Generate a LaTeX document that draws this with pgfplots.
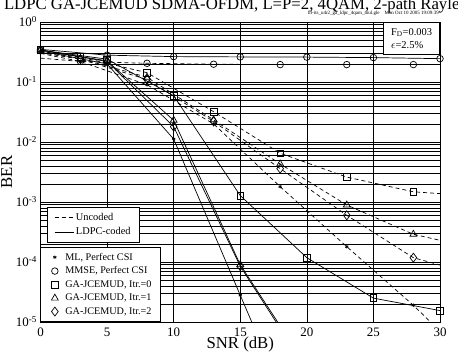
\documentclass[border=0pt]{standalone}
\usepackage{pgfplots}
\pgfplotsset{compat=1.18}
\usepackage{fontspec}
\setmainfont{Liberation Serif}
\pgfplotsset{
  mkleg/.style={only marks, line width=0.7bp,
    legend image code/.code={%
      \path[draw=none] (0bp,0bp) -- (14bp,0bp);
      \draw[##1] plot coordinates {(7bp,0bp)};}},
  lnleg/.style={line width=0.7bp,
    legend image code/.code={%
      \draw[##1] (0bp,0bp) -- (19bp,0bp);}},
}
\begin{document}
\begin{tikzpicture}[x=1bp,y=1bp]
\begin{axis}[
  at={(40.5bp,34bp)}, anchor=south west,
  scale only axis, width=399.5bp, height=300bp,
  ymode=log, xmin=0, xmax=30, ymin=1e-5, ymax=1,
  axis line style={black, line width=0.9bp},
  xtick={0,5,10,15,20,25,30},
  ytick={1e-5,1e-4,1e-3,1e-2,1e-1,1},
  yticklabels={10\textsuperscript{-5},10\textsuperscript{-4},10\textsuperscript{-3},10\textsuperscript{-2},10\textsuperscript{-1},10\textsuperscript{0}},
  xticklabels={0,5,10,15,20,25,30},
  major tick length=0pt, minor tick length=0pt,
  xmajorgrids, ymajorgrids, yminorgrids,
  major grid style={black, line width=0.6bp},
  minor grid style={black, line width=0.6bp},
  tick label style={font=\fontsize{13}{13}\selectfont},
  xticklabel style={anchor=base, inner sep=0pt, yshift=-14.5bp},
  yticklabel style={anchor=base east, inner sep=0pt, xshift=-3.5bp, yshift=-4.4bp},
  every axis plot/.append style={black, line width=0.7bp},
  legend style={at={(0,0)}, anchor=south west, draw=black, line width=0.7bp, fill=white,
    font=\fontsize{10.2}{11}\selectfont, inner xsep=7bp, inner ysep=4bp,
    row sep=1.2bp, column sep=1.5bp},
  legend cell align=left,
]
% ---------- LDPC-coded (solid), marks at 0,5,...
\addplot[solid, mark=o, mark size=3.3, mark options={solid}, forget plot] coordinates
 {(0,0.35)(5,0.28)(10,0.265)(15,0.262)(20,0.26)(25,0.255)(30,0.245)};
\addplot[solid, mark=square, mark size=3.3, mark options={solid}, forget plot] coordinates
 {(0,0.34)(5,0.24)(10,0.059)(15,0.00128)(20,1.18e-4)(25,2.5e-5)(30,1.55e-5)};
\addplot[solid, mark=triangle, mark size=4, mark options={solid}, mark indices={1,2,3,4}, forget plot] coordinates
 {(0,0.34)(5,0.225)(10,0.023)(15,9e-5)(20,1.8e-6)};
\addplot[solid, mark=diamond, mark size=4.5, mark options={solid}, mark indices={1,2,3,4}, forget plot] coordinates
 {(0,0.34)(5,0.22)(10,0.018)(15,8.5e-5)(20,1.6e-6)};
\addplot[solid, mark=asterisk, mark size=1.8, mark options={solid}, mark indices={1,2,3,4}, forget plot] coordinates
 {(0,0.33)(5,0.2)(10,0.0112)(15,2.8e-5)(16,8.5e-6)};
% ---------- Uncoded (dashed), marks at 3,8,...,28
\addplot[dash pattern=on 4bp off 3bp, mark=o, mark size=3.3, mark options={solid}, mark indices={2,3,4,5,6,7}, forget plot] coordinates
 {(0,0.25)(3,0.22)(8,0.205)(13,0.198)(18,0.195)(23,0.195)(28,0.195)(30,0.195)};
\addplot[dash pattern=on 4bp off 3bp, mark=square, mark size=3.3, mark options={solid}, mark indices={2,3,4,5,6,7}, forget plot] coordinates
 {(0,0.32)(3,0.26)(8,0.143)(13,0.032)(18,0.0065)(23,0.0026)(28,0.00148)(30,0.00138)};
\addplot[dash pattern=on 4bp off 3bp, mark=triangle, mark size=4, mark options={solid}, mark indices={2,3,4,5,6,7}, forget plot] coordinates
 {(0,0.31)(3,0.245)(8,0.12)(13,0.0234)(18,0.0043)(23,8.9e-4)(28,2.9e-4)(30,2.3e-4)};
\addplot[dash pattern=on 4bp off 3bp, mark=diamond, mark size=4.5, mark options={solid}, mark indices={2,3,4,5,6,7}, forget plot] coordinates
 {(0,0.31)(3,0.24)(8,0.11)(13,0.022)(18,0.0036)(23,6e-4)(28,1.18e-4)(30,8.9e-5)};
\addplot[dash pattern=on 4bp off 3bp, mark=asterisk, mark size=1.8, mark options={solid}, mark indices={2,3,4,5,6,7}, forget plot] coordinates
 {(0,0.3)(3,0.22)(8,0.09)(13,0.02)(18,1.8e-3)(23,1.8e-4)(28,1.9e-5)(30,7e-6)};
% ---------- legend of markers
\addlegendimage{mkleg, mark=asterisk, mark size=1.8}
\addlegendentry{ML, Perfect CSI}
\addlegendimage{mkleg, mark=o, mark size=3.3}
\addlegendentry{MMSE, Perfect CSI}
\addlegendimage{mkleg, mark=square, mark size=3.3}
\addlegendentry{GA-JCEMUD, Itr.=0}
\addlegendimage{mkleg, mark=triangle, mark size=4}
\addlegendentry{GA-JCEMUD, Itr.=1}
\addlegendimage{mkleg, mark=diamond, mark size=4.5}
\addlegendentry{GA-JCEMUD, Itr.=2}
\node[draw=black, line width=0.7bp, fill=white, anchor=north east, align=left,
  font=\fontsize{10.5}{13}\selectfont, inner xsep=7bp, inner ysep=6bp, minimum width=56bp]
  at (rel axis cs:1,1) {F\textsubscript{D}=0.003\\$\epsilon$=2.5\%};
\end{axis}
\begin{axis}[
  at={(40.5bp,34bp)}, anchor=south west,
  scale only axis, width=399.5bp, height=300bp,
  ymode=log, xmin=0, xmax=30, ymin=1e-5, ymax=1,
  hide axis,
  legend style={at={(0.016,0.264)}, anchor=south west, draw=black, line width=0.7bp, fill=white,
    font=\fontsize{10.4}{11}\selectfont, inner xsep=7bp, inner ysep=4bp, row sep=2bp},
  legend cell align=left,
]
\addplot[draw=none, forget plot] coordinates {(0,1e-6)};
\addlegendimage{lnleg, black, dash pattern=on 4bp off 3bp}
\addlegendentry{Uncoded}
\addlegendimage{lnleg, black}
\addlegendentry{LDPC-coded}
\end{axis}
\node[anchor=base west, font=\fontsize{16.8}{16.8}\selectfont] at (0.5bp,346bp)
  {LDPC GA-JCEMUD SDMA-OFDM, L=P=2, 4QAM, 2-path Rayleigh Channel};
\node[anchor=base east, inner sep=0pt, font=\fontsize{5}{5}\selectfont] at (439bp,341bp)
  {fll-its\_u4r2\_ga\_ldpc\_4qam\_mul.gle\quad Mon Oct 10 2005 19:09:39};
\node[anchor=base, font=\fontsize{16.8}{16.8}\selectfont] at (240.25bp,8bp) {SNR (dB)};
\node[anchor=base, rotate=90, font=\fontsize{16.8}{16.8}\selectfont] at (12bp,184bp) {BER};
\pgfresetboundingbox
\path[use as bounding box] (0bp,0bp) rectangle (458bp,356bp);
\end{tikzpicture}
\end{document}
